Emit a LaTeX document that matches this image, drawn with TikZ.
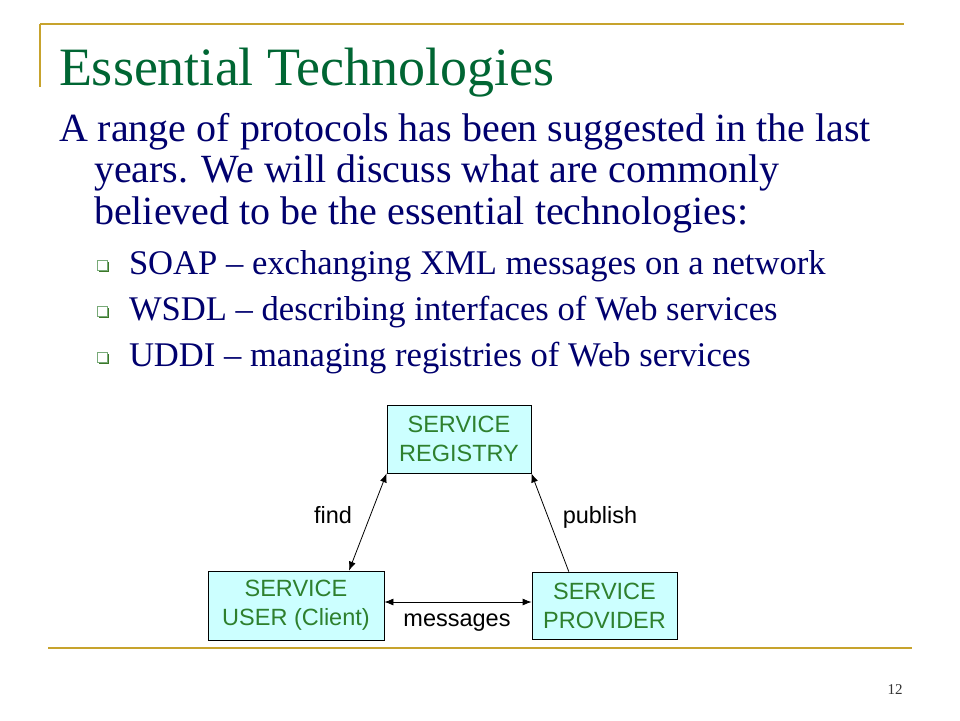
\documentclass[tikz,border=0pt]{standalone}
\usepackage{fontspec}
\setmainfont{Liberation Serif}
\newfontfamily\diagfont{Liberation Sans}
\usetikzlibrary{arrows.meta,calc}
\definecolor{titlegreen}{RGB}{0,102,51}
\definecolor{bodynavy}{RGB}{0,0,110}
\definecolor{gold}{RGB}{199,163,45}
\definecolor{boxfill}{RGB}{204,255,255}
\definecolor{boxtext}{RGB}{46,128,46}
\definecolor{bulletlight}{RGB}{120,170,120}
\definecolor{bulletdark}{RGB}{60,120,40}
\tikzset{
  txt/.style={anchor=base west, inner sep=0pt, outer sep=0pt},
  titletxt/.style={txt, text=titlegreen, font=\fontsize{54}{60}\selectfont},
  maintxt/.style={txt, text=bodynavy, font=\fontsize{40}{46}\selectfont},
  subtxt/.style={txt, text=bodynavy, font=\fontsize{34.6}{40}\selectfont},
  goldline/.style={draw=gold, line width=2.5pt},
  svcbox/.style={draw=black, line width=0.8pt, fill=boxfill, text=boxtext, align=center,
    inner sep=0pt, font=\diagfont\fontsize{23.5}{29}\selectfont},
  lbl/.style={inner sep=0pt, text=black, font=\diagfont\fontsize{23.5}{29}\selectfont},
  conn/.style={draw=black, line width=0.8pt},
}
\newcommand{\mybullet}[2]{%
  \fill[bulletdark] (#1+2,#2+2) rectangle (#1+12,#2+12);
  \filldraw[fill=white, draw=bulletlight, line width=0.8pt] (#1,#2) rectangle (#1+10,#2+10);
}
\begin{document}
\begin{tikzpicture}[x=1pt,y=-1pt]
\useasboundingbox (0,0) rectangle (960,720);
\fill[white] (0,0) rectangle (960,720);
% decoration lines
\draw[goldline] (40,24) -- (904,24);
\draw[goldline] (40,24) -- (40,87);
\draw[goldline] (48,648) -- (912,648);
% title and text
\node[titletxt] (title) at (59,85) {Essential Technologies};
\node[maintxt] (l1) at (59,141) {A range of protocols has been suggested in the last};
\node[maintxt] (l2) at (94,182) {years. We will discuss what are commonly};
\node[maintxt] (l3) at (94,224) {believed to be the essential technologies:};
\mybullet{97}{260}
\mybullet{97}{306}
\mybullet{97}{352}
\node[subtxt] (b1) at (129,274) {SOAP – exchanging XML messages on a network};
\node[subtxt] (b2) at (129,320) {WSDL – describing interfaces of Web services};
\node[subtxt] (b3) at (129,366) {UDDI – managing registries of Web services};
% diagram
\node[svcbox, minimum width=144pt, minimum height=68pt] (reg) at (459,439) {SERVICE\\REGISTRY};
\node[svcbox, minimum width=176pt, minimum height=69pt] (user) at (296,605.5) {SERVICE\\USER (Client)};
\node[svcbox, minimum width=145pt, minimum height=67pt] (prov) at (604.5,605.5) {SERVICE\\PROVIDER};
\draw[conn, {Latex[length=9pt,width=7pt]}-{Latex[length=9pt,width=7pt]}] (reg.south west) -- ($(user.north west)!0.8!(user.north east)$);
\draw[conn, -{Latex[length=9pt,width=7pt]}] ($(prov.north west)!0.255!(prov.north east)$) -- (reg.south east);
\draw[conn, {Latex[length=9pt,width=7pt]}-{Latex[length=9pt,width=7pt]}] ([yshift=3.5pt]user.east) -- ([yshift=3.5pt]prov.west);
\node[lbl] (lfind) at (333,515) {find};
\node[lbl] (lpub) at (600,517) {publish};
\node[lbl] (lmsg) at (457,623) {messages};
% page number
\node[inner sep=0pt, text=black!80, font=\fontsize{15}{18}\selectfont] (pg) at (895,690) {12};
\end{tikzpicture}
\end{document}
